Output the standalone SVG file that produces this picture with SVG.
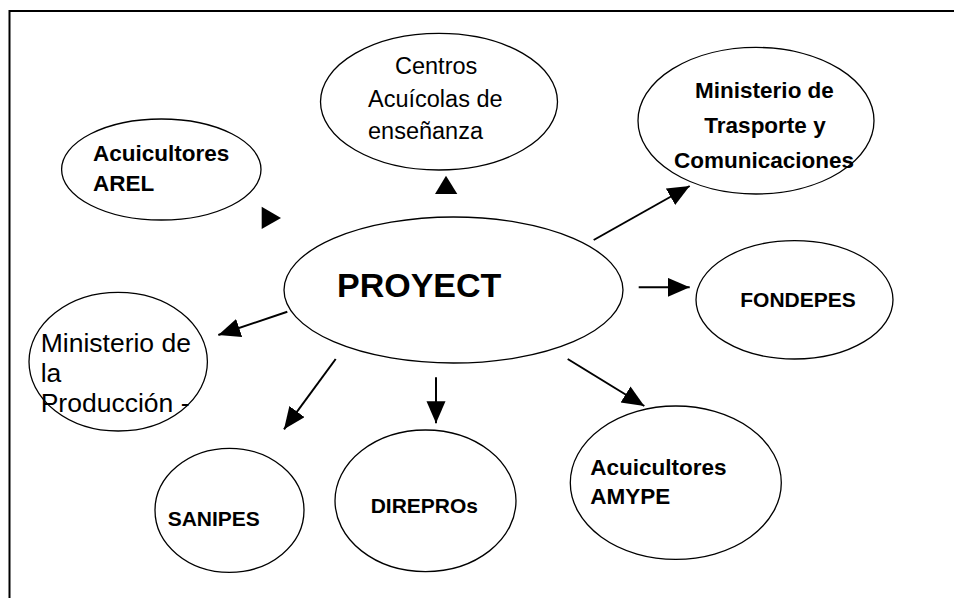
<svg xmlns="http://www.w3.org/2000/svg" width="954" height="598" viewBox="0 0 954 598">
<style>
.node ellipse{fill:#fff;stroke:#000;stroke-width:1.3}
.b{font-family:"Liberation Sans",Arial,sans-serif;font-weight:bold;font-size:22.5px;fill:#000}
.r{font-family:"Liberation Sans",Arial,sans-serif;font-size:23.5px;fill:#000}
.conn line{stroke:#000;stroke-width:2}
.frame{stroke:#000;stroke-width:2;fill:none}
</style>
<defs>
<marker id="ah" markerUnits="userSpaceOnUse" markerWidth="23" markerHeight="20" refX="22" refY="9.5" orient="auto" viewBox="0 0 23 20">
<path d="M0,0 L22,9.5 L0,19 z" fill="#000"/>
</marker>
</defs>
<rect width="954" height="598" fill="#fff"/>
<path class="frame" d="M9.5,600 V11 H954"/>

<g id="proyect" class="node">
<ellipse cx="453.5" cy="290" rx="169.5" ry="73"/>
<text x="337" y="297" class="b" style="font-size:34px">PROYECT</text>
</g>
<g id="centros" class="node">
<ellipse cx="439" cy="101.7" rx="118.5" ry="68.3"/>
<text class="r"><tspan x="395" y="74">Centros</tspan><tspan x="368" y="107">Acuícolas de</tspan><tspan x="368" y="139">enseñanza</tspan></text>
</g>
<g id="arel" class="node">
<ellipse cx="161.3" cy="169.5" rx="99.7" ry="50.5"/>
<text class="b"><tspan x="93" y="161">Acuicultores</tspan><tspan x="93" y="190.5">AREL</tspan></text>
</g>
<g id="mtc" class="node">
<ellipse cx="756" cy="120.7" rx="118" ry="73.3"/>
<text class="b" text-anchor="middle"><tspan x="764.5" y="97.7">Ministerio de</tspan><tspan x="765" y="133.3">Trasporte y</tspan><tspan x="764" y="168.3">Comunicaciones</tspan></text>
</g>
<g id="fondepes" class="node">
<ellipse cx="794.5" cy="299.8" rx="98.5" ry="59.2"/>
<text x="740.3" y="306.7" class="b" style="font-size:21px">FONDEPES</text>
</g>
<g id="produce" class="node">
<ellipse cx="118.2" cy="361.7" rx="89.2" ry="69.3"/>
<text class="r" style="font-size:26.5px"><tspan x="40.7" y="351.7">Ministerio de</tspan><tspan x="40.7" y="381.7">la</tspan><tspan x="40.7" y="411.7">Producción -</tspan></text>
</g>
<g id="sanipes" class="node">
<ellipse cx="229.5" cy="510.3" rx="74.5" ry="62"/>
<text x="167.7" y="525.7" class="b" style="font-size:21px">SANIPES</text>
</g>
<g id="direpros" class="node">
<ellipse cx="425.5" cy="500.8" rx="90.5" ry="70.8"/>
<text x="370.7" y="513.3" class="b" style="font-size:21px">DIREPROs</text>
</g>
<g id="amype" class="node">
<ellipse cx="675.8" cy="482.7" rx="105.5" ry="76.7"/>
<text class="b"><tspan x="590.3" y="475">Acuicultores</tspan><tspan x="590.3" y="504.3">AMYPE</tspan></text>
</g>

<g id="connectors" class="conn">
<line x1="593.7" y1="240" x2="689.7" y2="186" marker-end="url(#ah)"/>
<line x1="638.7" y1="287.3" x2="689.7" y2="287.3" marker-end="url(#ah)"/>
<line x1="567.7" y1="359" x2="644.3" y2="406" marker-end="url(#ah)"/>
<line x1="436" y1="377.3" x2="436" y2="423.3" marker-end="url(#ah)"/>
<line x1="335.7" y1="359" x2="284" y2="429.3" marker-end="url(#ah)"/>
<line x1="287.3" y1="311.7" x2="218.3" y2="335" marker-end="url(#ah)"/>
<polygon points="261.7,206.7 281,218 261.7,229" fill="#000"/>
<polygon points="435,194 446,175.7 457.3,194" fill="#000"/>
</g>
</svg>
